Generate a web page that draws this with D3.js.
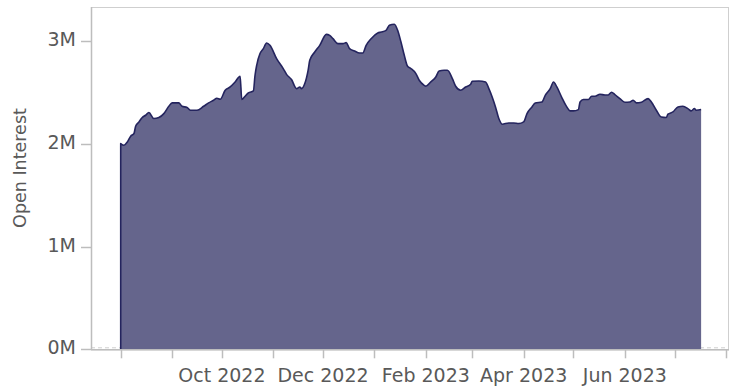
<!DOCTYPE html>
<html>
<head>
<meta charset="utf-8">
<script src="https://cdn.jsdelivr.net/npm/d3@7"></script>
<style>
  html, body { margin: 0; padding: 0; background: #fff; }
  svg { display: block; font-family: "DejaVu Sans", sans-serif; }
</style>
</head>
<body>
<svg id="chart" width="741" height="387"></svg>
<script>
// Daily open interest (millions of contracts)
const dates = [
  "2022-08-01","2022-08-03","2022-08-05","2022-08-07","2022-08-09","2022-08-10","2022-08-12","2022-08-14",
  "2022-08-16","2022-08-18","2022-08-21","2022-08-24","2022-08-27","2022-08-30","2022-09-01","2022-09-05",
  "2022-09-07","2022-09-10","2022-09-12","2022-09-16","2022-09-20","2022-09-23","2022-09-26","2022-09-28",
  "2022-09-30","2022-10-03","2022-10-06","2022-10-09","2022-10-12","2022-10-13","2022-10-15","2022-10-17",
  "2022-10-20","2022-10-21","2022-10-22","2022-10-24","2022-10-26","2022-10-28","2022-10-30","2022-11-03",
  "2022-11-07","2022-11-09","2022-11-12","2022-11-15","2022-11-17","2022-11-18","2022-11-20","2022-11-22",
  "2022-11-23","2022-11-26","2022-11-29","2022-12-03","2022-12-05","2022-12-07","2022-12-10","2022-12-13",
  "2022-12-15","2022-12-17","2022-12-20","2022-12-23","2022-12-25","2022-12-27","2022-12-30","2023-01-03",
  "2023-01-05","2023-01-08","2023-01-10","2023-01-13","2023-01-15","2023-01-17","2023-01-19","2023-01-21",
  "2023-01-23","2023-01-26","2023-01-28","2023-01-31","2023-02-01","2023-02-04","2023-02-07","2023-02-09",
  "2023-02-12","2023-02-14","2023-02-17","2023-02-19","2023-02-22","2023-02-25","2023-02-28","2023-03-01",
  "2023-03-05","2023-03-09","2023-03-11","2023-03-13","2023-03-15","2023-03-17","2023-03-19","2023-03-23",
  "2023-03-26","2023-03-29","2023-04-01","2023-04-03","2023-04-06","2023-04-08","2023-04-12","2023-04-14",
  "2023-04-17","2023-04-19","2023-04-21","2023-04-24","2023-04-27","2023-04-29","2023-05-01","2023-05-04",
  "2023-05-05","2023-05-07","2023-05-10","2023-05-12","2023-05-14","2023-05-17","2023-05-20","2023-05-22",
  "2023-05-24","2023-05-26","2023-05-29","2023-06-01","2023-06-04","2023-06-06","2023-06-08","2023-06-11",
  "2023-06-15","2023-06-17","2023-06-20","2023-06-23","2023-06-26","2023-06-27","2023-06-30","2023-07-03",
  "2023-07-06","2023-07-09","2023-07-11","2023-07-13","2023-07-14","2023-07-17"
];
const openInterest = [
  2.002,1.985,2.017,2.073,2.099,2.170,2.212,2.255,
  2.277,2.303,2.245,2.255,2.293,2.364,2.397,2.397,
  2.364,2.352,2.326,2.326,2.364,2.397,2.423,2.442,
  2.432,2.520,2.552,2.601,2.656,2.430,2.462,2.494,
  2.513,2.666,2.763,2.877,2.925,2.980,2.957,2.828,
  2.731,2.675,2.624,2.536,2.552,2.536,2.585,2.714,
  2.811,2.892,2.957,3.064,3.054,3.022,2.974,2.974,
  2.983,2.925,2.902,2.882,2.882,2.957,3.022,3.077,
  3.086,3.103,3.152,3.162,3.103,2.989,2.860,2.753,
  2.731,2.682,2.617,2.568,2.559,2.601,2.649,2.707,
  2.714,2.714,2.634,2.559,2.520,2.552,2.578,2.607,
  2.610,2.601,2.536,2.455,2.358,2.245,2.190,2.202,
  2.202,2.196,2.212,2.293,2.358,2.397,2.406,2.471,
  2.536,2.601,2.552,2.449,2.358,2.319,2.319,2.332,
  2.406,2.430,2.430,2.462,2.462,2.481,2.474,2.474,
  2.501,2.478,2.439,2.403,2.406,2.423,2.397,2.403,
  2.439,2.406,2.326,2.260,2.255,2.287,2.309,2.358,
  2.364,2.342,2.319,2.342,2.326,2.332
];

// Axis settings
const xDomain = ["2022-07-14T02:00:00Z", "2023-08-02T05:00:00Z"];
const yDomain = [0, 3.33];
const yTicks = [0, 1, 2, 3];
const xLabelMonths = ["2022-10-01", "2022-12-01", "2023-02-01", "2023-04-01", "2023-06-01"];
const yTitle = "Open Interest";

const frame = { left: 91, right: 728, top: 7, bottom: 349.3 };
const svg = d3.select("#chart");

const data = dates.map((d, i) => ({ date: new Date(d + "T00:00:00Z"), value: openInterest[i] }));

const x = d3.scaleUtc().domain(xDomain.map(d => new Date(d))).range([frame.left, frame.right]);
const y = d3.scaleLinear().domain(yDomain).range([frame.bottom, frame.top]);

const textColor = "#595959";
const axisColor = "#bdbdbd";

// Plot frame
svg.append("rect")
  .attr("x", frame.left + 0.5).attr("y", frame.top + 0.5)
  .attr("width", frame.right - frame.left).attr("height", frame.bottom - frame.top)
  .attr("fill", "none").attr("stroke", "#cfcfcf").attr("stroke-width", 1);

// Zero reference line
svg.append("line")
  .attr("x1", frame.left).attr("x2", frame.right)
  .attr("y1", y(0) - 1.5).attr("y2", y(0) - 1.5)
  .attr("stroke", "#cfcfcf").attr("stroke-dasharray", "4,3");

// Area
const area = d3.area()
  .x(d => x(d.date)).y0(y(0)).y1(d => y(d.value))
  .curve(d3.curveMonotoneX);
svg.append("path").datum(data)
  .attr("d", area)
  .attr("fill", "#65658c");

// Outline: rises from the baseline at the first day, then follows the series
const outline = d3.line()
  .x(d => x(d.date)).y(d => y(d.value))
  .curve(d3.curveMonotoneX);
const first = data[0];
svg.append("path")
  .attr("d", `M${x(first.date)},${y(0)}L${x(first.date)},${y(first.value)}` + outline(data).replace(/^M[^LC]*/, ""))
  .attr("fill", "none").attr("stroke", "#24245e").attr("stroke-width", 1.6)
  .attr("stroke-linejoin", "round");

// Left axis line + bottom axis line
svg.append("line")
  .attr("x1", frame.left + 0.5).attr("x2", frame.left + 0.5)
  .attr("y1", frame.top).attr("y2", frame.bottom + 0.5)
  .attr("stroke", axisColor).attr("stroke-width", 1.5);
svg.append("line")
  .attr("x1", frame.left).attr("x2", frame.right + 1)
  .attr("y1", frame.bottom + 0.5).attr("y2", frame.bottom + 0.5)
  .attr("stroke", axisColor).attr("stroke-width", 1.5);

// Y ticks
const yt = svg.append("g");
yTicks.forEach(t => {
  const yy = Math.round(y(t)) + 0.5;
  yt.append("line")
    .attr("x1", 81).attr("x2", frame.left)
    .attr("y1", yy).attr("y2", yy)
    .attr("stroke", axisColor).attr("stroke-width", 1.5);
  yt.append("text")
    .attr("x", 76).attr("y", y(t) + 5)
    .attr("text-anchor", "end")
    .attr("font-size", 19).attr("fill", textColor)
    .text(d3.format("d")(t) + "M");
});

// X ticks (monthly), labels every other month
const months = d3.utcMonth.range(new Date(xDomain[0]), new Date(xDomain[1]));
const labelSet = new Set(xLabelMonths);
const fmt = d3.utcFormat("%b %Y");
const iso = d3.utcFormat("%Y-%m-%d");
const xt = svg.append("g");
months.forEach(m => {
  const xx = Math.round(x(m)) + 0.5;
  xt.append("line")
    .attr("x1", xx).attr("x2", xx)
    .attr("y1", frame.bottom).attr("y2", frame.bottom + 9)
    .attr("stroke", axisColor).attr("stroke-width", 1.5);
  if (labelSet.has(iso(m))) {
    xt.append("text")
      .attr("x", x(m)).attr("y", 381.5)
      .attr("text-anchor", "middle")
      .attr("font-size", 19).attr("fill", textColor)
      .text(fmt(m));
  }
});

// Y axis title
svg.append("text")
  .attr("transform", `translate(26,168) rotate(-90)`)
  .attr("text-anchor", "middle")
  .attr("font-size", 17.5).attr("fill", textColor)
  .text(yTitle);
</script>
</body>
</html>
